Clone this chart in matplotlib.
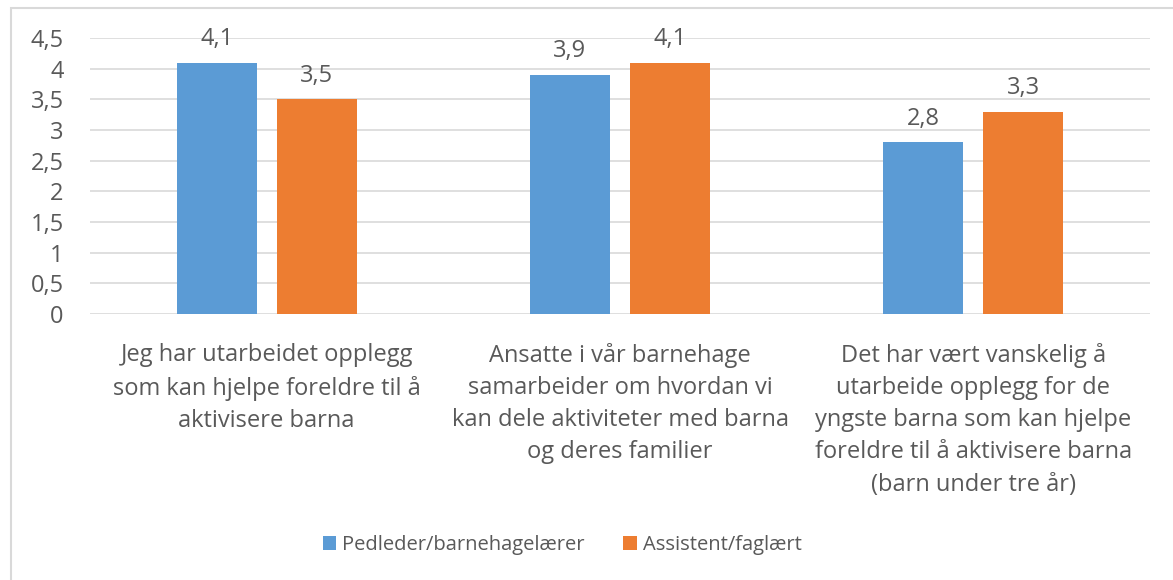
import numpy as np
import matplotlib.pyplot as plt
from matplotlib.patches import Rectangle

categories = ["Jeg har utarbeidet opplegg\nsom kan hjelpe foreldre til å\naktivisere barna",
              "Ansatte i vår barnehage\nsamarbeider om hvordan vi\nkan dele aktiviteter med barna\nog deres familier",
              "Det har vært vanskelig å\nutarbeide opplegg for de\nyngste barna som kan hjelpe\nforeldre til å aktivisere barna\n(barn under tre år)"]
pedleder = [4.1, 3.9, 2.8]
assistent = [3.5, 4.1, 3.3]
series_names = ["Pedleder/barnehagelærer", "Assistent/faglært"]
yticks = [0, 0.5, 1, 1.5, 2, 2.5, 3, 3.5, 4, 4.5]

plt.rcParams['font.family'] = ['Open Sans', 'DejaVu Sans']
txt = "#595959"
fs = 17

W, H = 1173, 580
fig = plt.figure(figsize=(W / 100, H / 100), dpi=100)
ax = fig.add_axes([90 / W, (H - 314) / H, 1060 / W, 276 / H])

x = np.arange(len(categories))
bw = 80 / 353.3
off = 50 / 353.3
b1 = ax.bar(x - off, pedleder, bw, color="#5B9BD5", label=series_names[0], zorder=3)
b2 = ax.bar(x + off, assistent, bw, color="#ED7D31", label=series_names[1], zorder=3)

for bars, vals in ((b1, pedleder), (b2, assistent)):
    for b, v in zip(bars, vals):
        ax.annotate(str(v).replace(".", ","), (b.get_x() + b.get_width() / 2, v),
                    xytext=(0, 17), textcoords="offset points", ha="center", va="center",
                    fontsize=fs, color=txt)

ax.set_xlim(-0.5, 2.5)
ax.set_ylim(0, 4.5)
ax.set_yticks(yticks)
ax.set_yticklabels([("%g" % t).replace(".", ",") for t in yticks], fontsize=fs, color=txt)
ax.set_xticks(x)
ax.set_xticklabels(categories, fontsize=fs, color=txt, linespacing=1.45, va="top")
ax.tick_params(axis="both", length=0)
ax.tick_params(axis="x", pad=21)
ax.tick_params(axis="y", pad=19)
ax.grid(axis="y", color="#D9D9D9", linewidth=1.2, zorder=0)
for s in ax.spines.values():
    s.set_visible(False)

fig.legend(handles=[b1, b2], labels=series_names, loc="center", bbox_to_anchor=(562 / W, (H - 545) / H),
           ncol=2, frameon=False, fontsize=14.5, labelcolor=txt, handlelength=0.65, handleheight=0.65,
           handletextpad=0.3, columnspacing=1.95)

fig.patches.append(Rectangle((11 / W, -0.1), 1.2, (H - 8) / H + 0.1, transform=fig.transFigure,
                             fill=False, edgecolor="#D9D9D9", linewidth=1.5, clip_on=False))

fig.savefig("out.png", dpi=100)
